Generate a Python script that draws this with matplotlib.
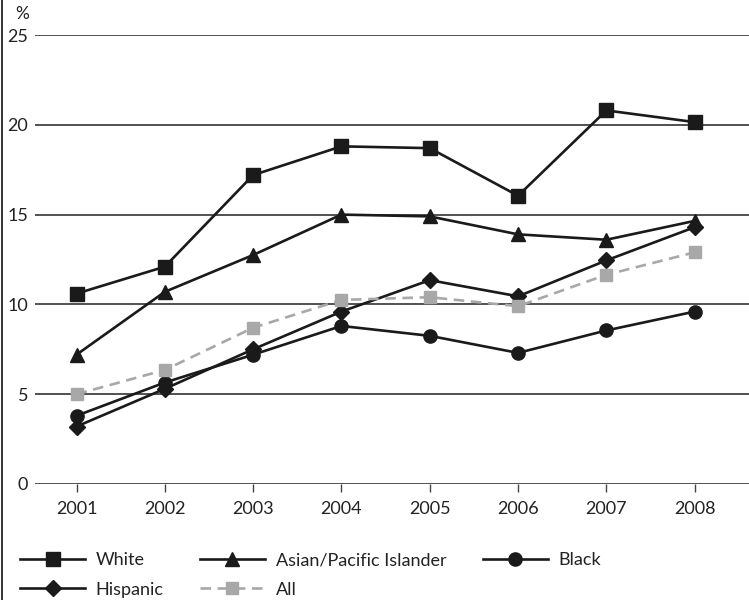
import matplotlib.pyplot as plt
from matplotlib.lines import Line2D

# data
years = [2001, 2002, 2003, 2004, 2005, 2006, 2007, 2008]
white = [10.6, 12.1, 17.2, 18.8, 18.7, 16.05, 20.8, 20.15]
asian = [7.2, 10.7, 12.75, 15.0, 14.9, 13.9, 13.6, 14.65]
black = [3.8, 5.65, 7.2, 8.8, 8.25, 7.3, 8.55, 9.6]
hispanic = [3.2, 5.3, 7.5, 9.6, 11.35, 10.45, 12.45, 14.3]
all_groups = [5.0, 6.35, 8.7, 10.25, 10.4, 9.9, 11.65, 12.9]

plt.rcParams['font.family'] = ['Lato', 'DejaVu Sans']
plt.rcParams['font.size'] = 12

fig = plt.figure(figsize=(7.49, 6), dpi=100)
ax = fig.add_axes([35 / 749, 1 - 484 / 600, 1 - 35 / 749, (484 - 35) / 600])

dark = '#1a1a1a'
lw = 1.9
ms = 9.5
h_white, = ax.plot(years, white, color=dark, lw=lw, marker='s', ms=ms, label='White')
h_asian, = ax.plot(years, asian, color=dark, lw=lw, marker='^', ms=ms + 1, label='Asian/Pacific Islander')
h_black, = ax.plot(years, black, color=dark, lw=lw, marker='o', ms=ms, label='Black')
h_hisp, = ax.plot(years, hispanic, color=dark, lw=lw, marker='D', ms=ms - 1, label='Hispanic')
h_all, = ax.plot(years, all_groups, color='#a8a8a8', lw=lw, ls=(0, (4, 2.5)), marker='s', ms=ms - 1,
                 label='All')

ax.set_xlim(2000.53, 2008.615)
ax.set_ylim(0, 25)
ax.set_yticks([0, 5, 10, 15, 20, 25])
ax.set_xticks(years)
ax.yaxis.grid(True, color='#222222', lw=1.1)
ax.set_axisbelow(True)
for s in ax.spines.values():
    s.set_visible(False)
ax.tick_params(axis='y', length=0, pad=5, labelsize=13, colors='#222222')
ax.tick_params(axis='x', length=6, width=1, color='#444444', pad=6, labelsize=13, labelcolor='#222222')

fig.text(15 / 749, 1 - 14 / 600, '%', fontsize=12.5, ha='left', va='center', color='#222222')

# left frame line
fig.add_artist(Line2D([2 / 749, 2 / 749], [0, 1], color='#111111', lw=1.2))

# legend fills column-wise, so order to get rows: White, Asian, Black / Hispanic, All
handles = [h_white, h_hisp, h_asian, h_all, h_black]
ax.legend(handles=handles, labels=[h.get_label() for h in handles],
          loc='upper left', bbox_to_anchor=(20 / 749, 1 - 552 / 600), bbox_transform=fig.transFigure,
          ncol=3, frameon=False, handlelength=3.6, handletextpad=0.6, columnspacing=2.0,
          labelspacing=0.75, borderaxespad=0, borderpad=0, fontsize=13, labelcolor='#222222')

fig.savefig('out.png', dpi=100)
